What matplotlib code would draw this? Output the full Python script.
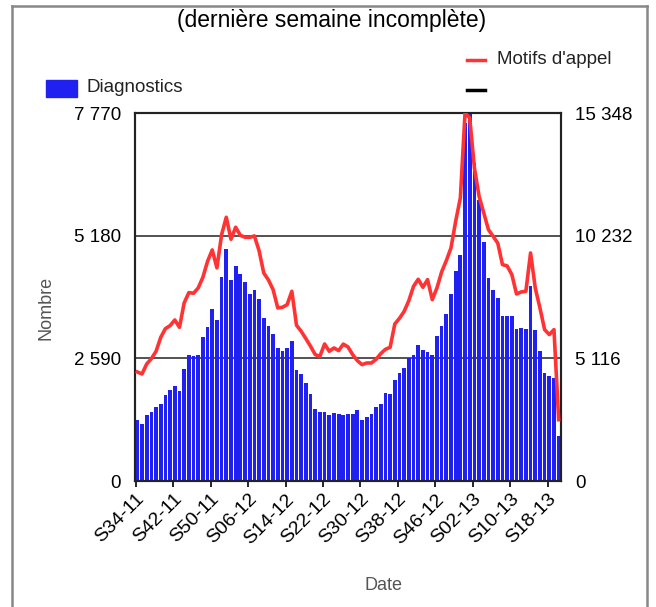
import numpy as np
import matplotlib
matplotlib.use('Agg')
import matplotlib.pyplot as plt
from matplotlib.patches import Rectangle
from matplotlib.lines import Line2D

plt.rcParams['font.family'] = ['Liberation Sans', 'DejaVu Sans']

# ------------------------------------------------------------
# Données hebdomadaires (S34-11 -> S20-13)
# ------------------------------------------------------------
diagnostics = [
    1290, 1205, 1400, 1460, 1565, 1635, 1810, 1920, 2010, 1895,
    2355, 2655, 2640, 2655, 3035, 3260, 3635, 3405, 4310, 4895,
    4240, 4550, 4365, 4195, 3950, 4040, 3850, 3445, 3265, 3095,
    2810, 2755, 2800, 2955, 2350, 2260, 2060, 1840, 1510, 1460,
    1460, 1390, 1445, 1405, 1400, 1415, 1420, 1505, 1295, 1345,
    1415, 1570, 1635, 1860, 1835, 2135, 2275, 2380, 2600, 2655,
    2880, 2765, 2730, 2655, 3070, 3280, 3520, 3940, 4440, 4780,
    7560, 7770, 6715, 5930, 5040, 4285, 4035, 3870, 3480, 3480,
    3490, 3215, 3240, 3205, 4120, 3190, 2745, 2290, 2210, 2180,
    955,
]

motifs = [
    4547, 4464, 4881, 5104, 5410, 5993, 6355, 6481, 6716, 6410,
    7425, 7858, 7830, 8051, 8496, 9163, 9637, 8887, 10277, 11000,
    10082, 10582, 10248, 10165, 10165, 10220, 9610, 8677, 8385, 7982,
    7218, 7245, 7356, 7913, 6495, 6244, 5938, 5618, 5270, 5201,
    5715, 5410, 5549, 5438, 5709, 5590, 5270, 5019, 4853, 4922,
    4922, 5077, 5312, 5493, 5576, 6550, 6787, 7077, 7524, 8121,
    8413, 8079, 8399, 7565, 8051, 8719, 9191, 9721, 10833, 11806,
    15348, 15145, 13059, 11875, 11180, 10485, 10206, 9916, 9025, 8970,
    8608, 7800, 7885, 7913, 9511, 8051, 7218, 6313, 6106, 6313,
    2558,
]

tick_labels = ['S34-11', 'S42-11', 'S50-11', 'S06-12', 'S14-12', 'S22-12',
               'S30-12', 'S38-12', 'S46-12', 'S02-13', 'S10-13', 'S18-13']
left_ticks = [0, 2590, 5180, 7770]
left_labels = ['0', '2 590', '5 180', '7 770']
right_ticks = [0, 5116, 10232, 15348]
right_labels = ['0', '5 116', '10 232', '15 348']

# ------------------------------------------------------------
# Figure
# ------------------------------------------------------------
W, H = 656, 607
fig = plt.figure(figsize=(W / 100, H / 100), dpi=100)

def fx(px):
    return px / W

def fy(py):
    return 1 - py / H

ax = fig.add_axes([fx(135), fy(481), fx(561) - fx(135), fy(113) - fy(481)])
x = np.arange(len(diagnostics))

ax.bar(x, diagnostics, width=0.8, color='#2020f0', zorder=2)
ax.set_xlim(-0.5, len(diagnostics) - 0.5)
ax.set_ylim(0, 7770)

for v in [2590, 5180]:
    ax.axhline(v, color='#444444', linewidth=1.3, zorder=1)

ax.set_yticks(left_ticks)
ax.set_yticklabels(left_labels, fontsize=13.5)
ax.tick_params(axis='y', length=0, pad=10)

ax.set_xticks(np.arange(0, len(diagnostics), 8) - 0.35)
ax.set_xticklabels(tick_labels, rotation=45, ha='right', va='top',
                   rotation_mode='anchor', fontsize=14)
ax.tick_params(axis='x', length=4, width=1.2, pad=3, color='black')

for s in ax.spines.values():
    s.set_linewidth(1.5)
    s.set_color('#222222')

ax2 = ax.twinx()
ax2.plot(x, motifs, color='#ff3333', linewidth=2.6, zorder=3)
ax2.set_ylim(0, 15348)
ax2.set_yticks(right_ticks)
ax2.set_yticklabels(right_labels, fontsize=13.5)
ax2.tick_params(axis='y', length=0, pad=10)
for s in ax2.spines.values():
    s.set_linewidth(1.5)
    s.set_color('#222222')

fig.text(fx(46), fy(308), 'Nombre', rotation=90, ha='center', va='center',
         fontsize=13, color='#555555')
fig.text(fx(383), fy(586), 'Date', ha='center', va='center',
         fontsize=13, color='#555555')

# Titre
fig.text(fx(332), fy(21), '(dernière semaine incomplète)', ha='center',
         va='center', fontsize=16.5, color='black')

# Légende
fig.add_artist(Line2D([fx(467), fx(485)], [fy(60), fy(60)], color='#ff3333',
                      linewidth=2.5, transform=fig.transFigure))
fig.text(fx(497), fy(60), "Motifs d'appel", ha='left', va='center',
         fontsize=13.5, color='#222222')
fig.add_artist(Line2D([fx(467), fx(485)], [fy(90), fy(90)], color='black',
                      linewidth=2.5, transform=fig.transFigure))
fig.add_artist(Rectangle((fx(46), fy(97)), fx(77) - fx(46), fy(80) - fy(97),
                         color='#2020f0', transform=fig.transFigure))
fig.text(fx(86), fy(88), 'Diagnostics', ha='left', va='center',
         fontsize=13.5, color='#222222')

# Cadre gris autour de la figure
for xs, ys in [([12, 12], [6, 607]), ([647, 647], [6, 607]), ([12, 647], [6, 6])]:
    fig.add_artist(Line2D([fx(xs[0]), fx(xs[1])], [fy(ys[0]), fy(ys[1])],
                          color='#888888', linewidth=1.8,
                          transform=fig.transFigure))

fig.savefig('out.png', dpi=100)
